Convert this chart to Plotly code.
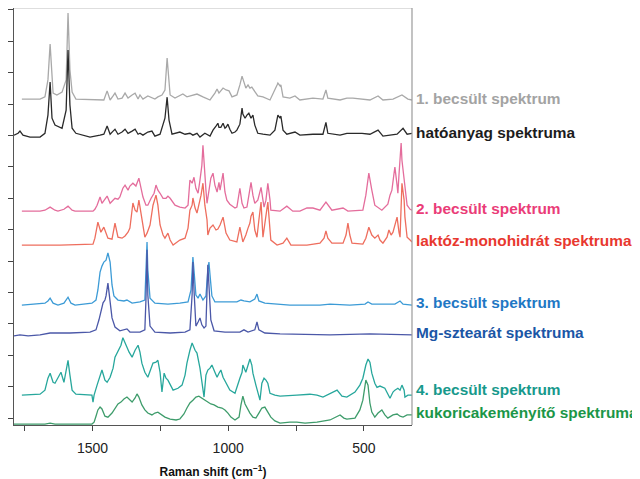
import plotly.graph_objects as go

# ---------------- data (wavenumber in cm-1, relative intensity in a.u.) ----------------
gray_wn = [1760,1693,1675,1664,1656,1649,1645,1631,1612,1597, 1590,1583,1575,1561,1458,1446,1435,1424,1417,1406,
           1391,1380,1369,1354,1343,1332,1325,1314,1296,1270, 1259,1244,1233,1225,1218,1214,1196,1178,1167,1152,
           1141,1115,1093,1067,1049,1041,1034,1027,1019,1008, 997,986,968,957,949,942,935,927,920,913,
           902,891,872,846,820,817,809,806,798,773, 754,736,688,651,640,633,588,563,541,515,
           478,448,430,393,360,338,323]
gray_int = [0.03,0.03,0.10,0.64,1.78,0.48,0.22,0.16,0.25,0.64, 2.77,0.96,0.25,0.03,0,0.29,0,0.13,0.22,0.03,
            0.06,0.22,0.06,0.16,0.22,0.03,0.16,0.03,0.13,0.03, 0.10,0.16,0.32,1.34,0.38,0.16,0.06,0.13,0.19,0.10,
            0.13,0.19,0.10,0,0.22,0.35,0.22,0.29,0.38,0.32, 0.29,0.10,0.16,0.48,0.76,0.57,0.38,0.48,0.38,0.41,
            0.25,0.13,0.10,0,0.48,0.54,0.45,0.48,0.10,0.06, 0.13,0,0.06,0.03,0.32,0.06,0,0.06,0.06,0.03,
            0,0.13,0,0.03,0.16,0.03,0]

black_wn = [1789,1774,1767,1756,1730,1693,1675,1664,1656,1649, 1638,1612,1597,1590,1583,1575,1561,1509,1472,1458,
            1446,1435,1424,1417,1406,1391,1380,1369,1354,1343, 1332,1325,1314,1296,1281,1270,1251,1233,1225,1218,
            1207,1189,1178,1159,1141,1130,1115,1104,1086,1067, 1056,1045,1038,1034,1027,1019,1012,1008,1001,994,
            986,975,968,957,949,946,938,931,924,916, 909,902,891,872,846,828,820,817,809,806,
            798,784,754,736,688,651,640,633,588,563, 541,507,478,448,430,378,356,341,323]
black_int = [0,0.06,0.13,0,-0.06,-0.06,0.06,0.64,1.69,0.54, 0.32,0.22,0.80,2.71,0.96,0.22,0.06,-0.06,0,0.03,
             0.29,0.03,0.13,0.19,0.03,0.10,0.19,0.06,0.13,0.19, 0.03,0.06,0,0.10,0.13,-0.03,0.03,0.54,1.21,0.48,
             0.03,0.06,0.10,0.03,0.06,0,0.06,-0.06,0.06,-0.03, 0.16,0.29,0.38,0.25,0.25,0.38,0.22,0.25,0.35,0.19,
             0.06,0.10,0.16,0.35,0.86,0.67,0.54,0.64,0.70,0.54, 0.64,0.32,0.06,0.03,0,0.16,0.48,0.64,0.54,0.61,
             0.16,0.03,0.10,0,0.03,0.03,0.41,0.06,0,0.06, 0.06,0.06,0.03,0.16,-0.03,0.03,0.22,0.03,0.06]

pink_wn = [1760,1693,1675,1656,1638,1627,1605,1590,1575,1564, 1498,1491,1483,1472,1465,1458,1446,1435,1424,1417,
           1406,1399,1388,1380,1369,1362,1351,1340,1329,1321, 1314,1303,1296,1284,1273,1266,1259,1251,1240,1229,
           1222,1214,1196,1178,1159,1148,1141,1133,1126,1119, 1111,1104,1097,1093,1089,1082,1078,1071,1064,1056,
           1049,1041,1034,1030,1019,1012,1005,994,975,968, 957,949,942,931,924,916,909,902,891,879,
           872,868,861,854,846,843,809,784,762,736, 710,688,662,640,618,577,559,504,493,482,
           471,460,434,412,404,397,390,386,378,375, 371,363,360,352,341,330,323]
pink_int = [0,0,0.03,0.13,0.03,0,0.06,0.16,0.03,0, 0,0.06,0.19,0.45,0.25,0.35,0.48,0.25,0.35,0.41,
            0.38,0.45,0.73,0.83,0.67,0.80,0.89,0.80,1.05,0.73, 0.45,0.19,0.19,0.41,0.57,0.83,0.67,0.57,0.41,0.41,
            0.48,0.41,0.19,0.13,0.10,0.19,0.99,0.89,1.08,0.73, 0.57,0.99,1.46,2.10,1.46,0.67,0.25,0.67,1.05,1.21,
            0.83,0.61,0.92,0.67,1.21,0.61,0.35,0.22,0.10,0.13, 0.73,0.25,0.10,0.13,0.51,0.92,0.51,0.25,0.35,0.76,
            0.35,0.13,0.35,0.89,0.35,0.03,0,0.16,0,0, 0.10,0.10,0.03,0.29,0.03,0.10,0,0.03,0.51,1.21,
            0.67,0.19,0.03,0.22,0.51,0.67,1.15,1.40,0.83,0.57, 1.15,2.17,1.62,1.08,0.19,0.06,0.03]

red_wn = [1760,1620,1498,1491,1480,1472,1469,1458,1450,1443, 1428,1417,1406,1391,1380,1369,1362,1351,1343,1336,
          1329,1321,1314,1307,1299,1288,1277,1266,1259,1251, 1240,1233,1222,1214,1203,1178,1159,1148,1141,1133,
          1130,1122,1115,1108,1100,1093,1086,1078,1075,1067, 1056,1045,1038,1030,1019,1008,994,968,957,946,
          935,927,920,916,909,902,894,887,879,872, 865,854,846,843,820,798,784,769,710,688,
          662,647,640,633,618,577,566,559,552,544, 504,493,482,471,460,448,441,430,415,408,
          400,393,386,378,371,367,360,352,349,341, 330,323]
red_int = [0,0,0.03,0.22,0.73,0.54,0.41,0.57,0.38,0.22, 0.19,0.70,0.25,0.22,0.29,0.41,0.54,1.34,1.11,1.05,
           1.43,0.96,0.54,0.25,0.38,0.64,1.27,1.59,1.27,0.64, 0.32,0.22,0.38,0.16,0,0.16,0.22,0.54,1.11,1.27,
           1.50,1.18,1.02,1.27,1.59,1.97,1.27,0.80,0.32,0.54, 0.64,0.48,0.51,0.64,0.89,0.38,0.16,0.10,0.57,0.10,
           0.32,0.54,0.70,0.92,1.05,0.48,0.25,0.80,1.37,0.25, 0.64,1.37,0.48,0.16,0,0.06,0.22,0,0,0.03,
           0.06,0.22,0.45,0.22,0.06,0.06,0.32,0.70,0.32,0.06, 0.03,0.22,0.57,0.32,0.22,0.32,0.16,0.06,0.25,0.48,
           0.32,0.41,0.64,0.89,0.41,0.25,1.97,1.43,0.89,0.25, 0.16,0.10]

blue_wn = [1760,1675,1664,1656,1645,1627,1605,1590,1579,1564, 1502,1487,1480,1472,1465,1458,1450,1443,1435,1428,
           1421,1406,1384,1373,1354,1325,1307,1303,1299,1296, 1288,1270,1222,1178,1148,1137,1133,1130,1126,1119,
           1111,1104,1093,1082,1075,1071,1067,1060,1049,1012, 968,953,942,920,902,894,887,865,773,662,
           625,552,496,485,471,386,367,356,323]
blue_int = [0,0.06,0.13,0.22,0.06,0,0.06,0.25,0.06,0, 0.06,0.16,0.48,1.05,1.24,1.37,1.43,1.66,1.37,0.64,
            0.29,0.16,0.13,0.16,0.06,0.10,0.16,0.96,2.01,1.11, 0.22,0.06,0.03,0.06,0.10,0.48,1.27,1.53,1.11,0.32,
            0.22,0.35,0.16,0.29,1.11,1.37,0.96,0.29,0.10,0.10, 0.10,0.16,0.13,0.10,0.19,0.35,0.13,0.06,0,0,
            0.03,0,0.03,0.10,0.03,0.03,0.13,0.03,0]

mg_wn = [1789,1767,1737,1693,1656,1583,1509,1487,1476,1469, 1461,1454,1450,1443,1435,1428,1417,1399,1373,1362,
         1325,1307,1303,1299,1296,1288,1270,1214,1159,1141, 1133,1130,1126,1119,1111,1104,1097,1089,1082,1078,
         1075,1071,1064,1052,1012,957,942,927,902,894, 887,865,809,625,478,323]
mg_int = [-0.06,-0.03,-0.06,-0.03,0.03,0.03,0.06,0.13,0.45,0.76, 0.99,1.08,1.21,1.62,1.08,0.51,0.22,0.10,0.16,0.06,
          0.06,0.13,1.08,2.68,1.24,0.25,0.06,0.03,0.06,0.13, 1.24,2.29,1.40,0.25,0.38,0.51,0.29,0.19,0.25,1.40,
          2.20,1.56,0.45,0.10,0.06,0.06,0.13,0.06,0.13,0.38, 0.13,0.03,0,-0.03,0,-0.03]

teal_wn = [1760,1693,1675,1664,1656,1645,1638,1627,1616,1605, 1597,1590,1583,1575,1561,1502,1498,1494,1483,1472,
           1465,1454,1446,1435,1424,1417,1406,1395,1388,1380, 1373,1365,1354,1343,1332,1325,1318,1307,1296,1284,
           1277,1266,1259,1251,1244,1236,1229,1222,1203,1185, 1170,1159,1152,1141,1133,1122,1115,1104,1097,1089,
           1082,1075,1067,1060,1049,1041,1034,1027,1019,1008, 994,975,964,957,949,946,935,927,920,913,
           909,898,883,876,868,861,854,846,828,809, 773,747,699,673,651,625,599,581,563,533,
           515,504,493,485,478,471,460,452,441,423, 412,404,393,386,375,367,360,352,349,338,
           323]
teal_int = [0,0.03,0.16,0.54,0.70,0.41,0.38,0.54,0.73,0.41, 0.73,1.11,0.64,0.16,0.03,0,-0.22,0,0.32,0.64,
            0.80,0.48,0.41,0.57,0.86,1.21,1.43,1.59,1.83,1.66, 1.50,1.37,1.21,1.43,1.59,1.37,1.02,0.73,0.57,0.86,
            1.02,1.05,1.11,0.73,0.10,0.70,0.54,0.48,0.16,0.22, 0.32,0.64,1.02,1.43,1.66,1.43,1.34,0.86,0.48,-0.06,
            0.64,0.80,0.86,0.96,0.73,0.57,0.70,0.80,0.57,0.41, 0.16,0.06,0.38,0.54,0.73,0.96,0.73,0.96,1.15,0.96,
            0.70,0.32,-0.16,0.38,0.54,0.48,0.38,0.06,0,-0.03, 0,0,0.03,0,-0.06,0.06,0.16,-0.03,-0.06,0.10,
            0.32,0.54,0.96,1.15,1.05,0.70,0.38,0.25,0.29,0.22, 0,-0.10,0.10,0.16,0.22,0.16,0.32,0.16,-0.06,0,
            0]

green_wn = [1789,1675,1656,1638,1502,1494,1487,1480,1472,1465, 1454,1443,1428,1417,1406,1395,1384,1373,1362,1354,
            1343,1336,1329,1318,1307,1296,1281,1270,1259,1248, 1233,1214,1192,1178,1163,1152,1141,1130,1119,1108,
            1097,1086,1075,1064,1052,1038,1023,1012,1001,990, 975,960,953,946,938,927,920,909,898,887,
            876,865,854,843,828,809,773,747,717,673, 625,588,574,563,533,515,504,493,485,478,
            471,460,448,434,423,412,393,378,367,356, 341,323]
green_int = [0,0,0.03,0,0,0.06,0.25,0.45,0.54,0.48, 0.25,0.22,0.35,0.51,0.64,0.70,0.80,0.86,0.76,0.70,
             0.83,0.96,0.86,0.61,0.45,0.35,0.29,0.35,0.38,0.32, 0.22,0.16,0.13,0.16,0.32,0.51,0.67,0.76,0.86,0.89,
             0.83,0.76,0.70,0.64,0.61,0.54,0.51,0.45,0.35,0.22, 0.13,0.22,0.61,0.89,0.64,0.45,0.35,0.22,0.19,0.35,
             0.51,0.54,0.38,0.22,0.10,0.03,0.06,0.06,0.03,0.06, 0.13,0.29,0.19,0.16,0.19,0.45,0.76,1.40,1.24,0.67,
             0.38,0.22,0.35,0.45,0.29,0.19,0.29,0.32,0.25,0.22, 0.29,0.29]

# vertical stacking offset of each spectrum (a.u.)
offsets = [10.13, 9.01, 6.59, 5.51, 3.60, 2.68, 0.73, -0.19]

labels = ["1. becsült spektrum", "hatóanyag spektruma",
          "2. becsült spektrum", "laktóz-monohidrát spektruma",
          "3. becsült spektrum", "Mg-sztearát spektruma",
          "4. becsült spektrum", "kukoricakeményítő spektruma"]

x_major_ticks = [1500, 1000, 500]
x_minor_ticks = [1750, 1250, 750]
y_tick_vals = list(range(0, 14))

# ---------------- styles ----------------
line_colors = ["#a9a9a9", "#2a2a2a", "#e46d9c", "#ee6e5e", "#3c9bd6", "#4b58a8", "#27a79c", "#3e9c6b"]
label_colors = ["#a3a3a3", "#1c1c1c", "#ea3c78", "#e8382f", "#1f78c4", "#1b56a6", "#17998c", "#1b9648"]
label_yshift = [2, 3, 3, 5, 3, 1, 6, 12]

series = [(gray_wn, gray_int), (black_wn, black_int), (pink_wn, pink_int), (red_wn, red_int),
          (blue_wn, blue_int), (mg_wn, mg_int), (teal_wn, teal_int), (green_wn, green_int)]

fig = go.Figure()
for (wn, rel), off, col in zip(series, offsets, line_colors):
    fig.add_trace(go.Scatter(x=wn, y=[v + off for v in rel], mode="lines",
                             line=dict(color=col, width=1.3), hoverinfo="skip", showlegend=False))

label_font = "Liberation Sans, Arial, sans-serif"
for txt, off, col, ys in zip(labels, offsets, label_colors, label_yshift):
    fig.add_annotation(text=txt, xref="paper", x=1, xanchor="left", xshift=2,
                       yref="y", y=off, yanchor="middle", yshift=ys, showarrow=False,
                       font=dict(family=label_font, size=15.4, color=col, weight="bold"))

# the page body adds an 8px offset, so the figure is sized 632x471
fig.update_layout(
    width=632, height=471,
    margin=dict(l=6, r=228, t=0, b=54),
    paper_bgcolor="white", plot_bgcolor="white",
    font=dict(family="Liberation Sans, Arial, sans-serif", color="#222"),
    xaxis=dict(range=[1789, 323], tickvals=x_major_ticks,
               ticks="outside", ticklen=5, tickwidth=1, tickcolor="#444",
               ticklabelstandoff=5,
               minor=dict(tickvals=x_minor_ticks, ticks="outside", ticklen=5, tickwidth=1, tickcolor="#444"),
               showline=True, linecolor="#555", linewidth=1.2,
               showgrid=False, zeroline=False,
               tickfont=dict(size=14, color="#222"),
               title=dict(text="Raman shift (cm<sup>−1</sup>)", standoff=14,
                          font=dict(size=12, color="#111", weight="bold"))),
    yaxis=dict(range=[-0.22, 13.06], tickvals=y_tick_vals, showticklabels=False,
               ticks="outside", ticklen=6, tickwidth=1, tickcolor="#444",
               showline=True, linecolor="#555", linewidth=1.2,
               showgrid=False, zeroline=False),
    shapes=[
        dict(type="line", xref="paper", yref="paper", x0=0, x1=1, y0=1, y1=1,
             line=dict(color="#bdbdbd", width=1.2)),
        dict(type="line", xref="paper", yref="paper", x0=1, x1=1, y0=0, y1=1,
             line=dict(color="#9a9a9a", width=1.2)),
    ],
)

fig.write_html("out.html")
